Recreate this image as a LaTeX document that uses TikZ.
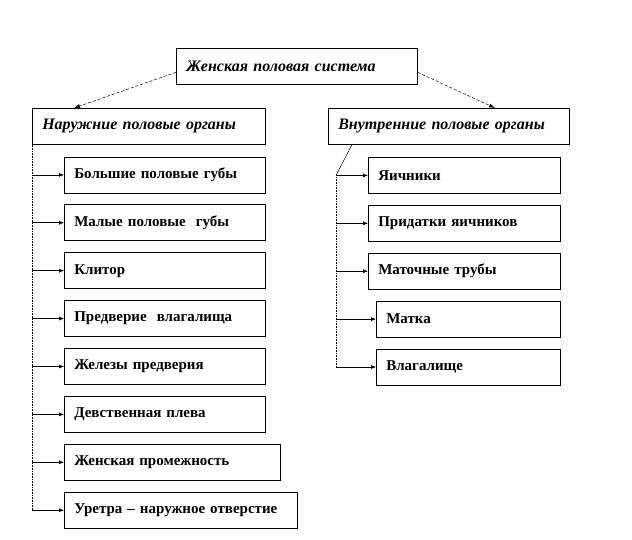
\documentclass[tikz,border=0pt]{standalone}
\usepackage{fontspec}
\setmainfont{Liberation Serif}
\usetikzlibrary{arrows.meta,positioning}
\tikzset{
  orgbox/.style={rectangle, draw=black, line width=0.6pt, align=left, inner xsep=10pt, text width=#1, minimum height=36pt, font=\fontsize{15}{17}\selectfont\bfseries},
  headbox/.style={orgbox=#1, font=\fontsize{16}{18}\selectfont\bfseries\itshape},
  flowarrow/.style={-{Latex[length=5pt,width=4pt]}, line width=0.6pt},
  linkarrow/.style={-{Latex[length=6pt,width=4pt]}, densely dashed, line width=0.5pt},
  trunk/.style={densely dotted, line width=0.6pt}
}

\begin{document}
\begin{tikzpicture}[x=1pt, y=1pt]
\useasboundingbox (0,0) rectangle (632,-540);

\node[headbox=221pt, anchor=north west] (top) at (176,-48) {Женская половая система};
\node[headbox=213pt, anchor=north west] (lh) at (32,-108) {Наружние половые органы};
\node[headbox=221pt, anchor=north west] (rh) at (328,-108) {Внутренние половые органы};
\draw[linkarrow] ([yshift=-6pt]top.west) -- ([xshift=42pt]lh.north west);
\draw[linkarrow] ([yshift=-6pt]top.east) -- ([xshift=167pt]rh.north west);

% outer organs
\node[orgbox=181pt, below right=12pt and 32pt of lh.south west] (l1) {Большие половые губы};
\node[orgbox=181pt, below right=11.3pt and 0pt of l1.south west] (l2) {Малые половые\ \ губы};
\node[orgbox=181pt, below right=11.3pt and 0pt of l2.south west] (l3) {Клитор};
\node[orgbox=181pt, below right=11.3pt and 0pt of l3.south west] (l4) {Предверие\ \ влагалища};
\node[orgbox=181pt, below right=11.3pt and 0pt of l4.south west] (l5) {Железы предверия};
\node[orgbox=181pt, below right=11.3pt and 0pt of l5.south west] (l6) {Девственная плева};
\node[orgbox=196pt, below right=11.3pt and 0pt of l6.south west] (l7) {Женская промежность};
\node[orgbox=213pt, below right=11.3pt and 0pt of l7.south west] (l8) {Уретра -- наружное отверстие};
\draw[trunk] (lh.south west) -- (lh.south west |- l8.west);
\draw[flowarrow] (lh.south west |- l1.west) -- (l1.west);
\draw[flowarrow] (lh.south west |- l2.west) -- (l2.west);
\draw[flowarrow] (lh.south west |- l3.west) -- (l3.west);
\draw[flowarrow] (lh.south west |- l4.west) -- (l4.west);
\draw[flowarrow] (lh.south west |- l5.west) -- (l5.west);
\draw[flowarrow] (lh.south west |- l6.west) -- (l6.west);
\draw[flowarrow] (lh.south west |- l7.west) -- (l7.west);
\draw[flowarrow] (lh.south west |- l8.west) -- (l8.west);

% inner organs
\node[orgbox=172pt, below right=12.5pt and 40pt of rh.south west] (r1) {Яичники};
\node[orgbox=172pt, below right=11.3pt and 0pt of r1.south west] (r2) {Придатки яичников};
\node[orgbox=172pt, below right=11.3pt and 0pt of r2.south west] (r3) {Маточные трубы};
\node[orgbox=164pt, below right=11.3pt and 8pt of r3.south west] (r4) {Матка};
\node[orgbox=164pt, below right=11.3pt and 0pt of r4.south west] (r5) {Влагалище};
\coordinate (rt) at ([xshift=8pt]rh.south west |- r1.west);
\draw[line width=0.5pt] ([xshift=24pt]rh.south west) -- (rt);
\draw[trunk] (rt) -- (rt |- r5.west);
\draw[flowarrow] (rt |- r1.west) -- (r1.west);
\draw[flowarrow] (rt |- r2.west) -- (r2.west);
\draw[flowarrow] (rt |- r3.west) -- (r3.west);
\draw[flowarrow] (rt |- r4.west) -- (r4.west);
\draw[flowarrow] (rt |- r5.west) -- (r5.west);
\end{tikzpicture}
\end{document}
